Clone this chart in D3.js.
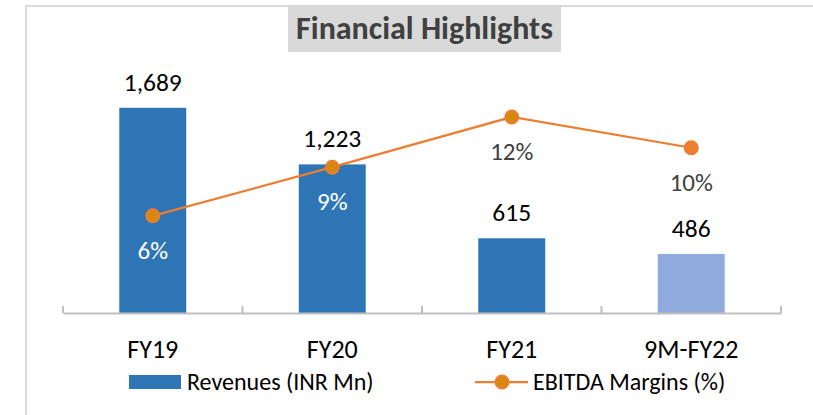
<!DOCTYPE html>
<html>
<head>
<meta charset="utf-8">
<script src="https://cdn.jsdelivr.net/npm/d3@7"></script>
<style>
  body { margin: 0; background: #fff; }
  svg { display: block; }
</style>
</head>
<body>
<script>
// data
const categories = ["FY19", "FY20", "FY21", "9M-FY22"];
const revenues = [1689, 1223, 615, 486];        // INR Mn
const ebitdaMargins = [6.0, 9.0, 12.1, 10.2];    // %
const revenueLabels = ["1,689", "1,223", "615", "486"];
const marginLabels = ["6%", "9%", "12%", "10%"];

const width = 813,
  height = 415,
  fontFamily = "Carlito, Calibri, Lato, sans-serif",
  blue = "#2e75b6",
  lightBlue = "#8faadc",
  orange = "#ed7d31",
  markerFill = "#d6890c";

const svg = d3
  .select("body")
  .append("svg")
  .attr("width", width)
  .attr("height", height)
  .attr("viewBox", [0, 0, width, height])
  .attr("font-family", fontFamily);

// frame (left + top edge of the slide box)
svg
  .append("path")
  .attr("d", `M26,${height}V6H${width}`)
  .attr("fill", "none")
  .attr("stroke", "#d9d9d9")
  .attr("stroke-width", 2);

// title
svg
  .append("rect")
  .attr("x", 288)
  .attr("y", 6)
  .attr("width", 273)
  .attr("height", 46)
  .attr("fill", "#d9d9d9");

svg
  .append("text")
  .attr("x", 424.5)
  .attr("y", 39)
  .attr("text-anchor", "middle")
  .attr("font-size", 32)
  .attr("font-weight", "bold")
  .attr("fill", "#404040")
  .text("Financial Highlights");

// scales
const xScale = d3.scaleBand().domain(categories).range([63, 781]);
const yScale = d3.scaleLinear().domain([0, 2000]).range([313, 70]);
const y2Scale = d3.scaleLinear().domain([0, 15]).range([313, 70]);
const barWidth = xScale.bandwidth() * 0.373;
const cx = (c) => xScale(c) + xScale.bandwidth() / 2;
const isPartial = (c) => c.startsWith("9M");

// bars
svg
  .append("g")
  .selectAll("rect")
  .data(categories)
  .join("rect")
  .attr("x", (c) => cx(c) - barWidth / 2)
  .attr("y", (c, i) => yScale(revenues[i]))
  .attr("width", barWidth)
  .attr("height", (c, i) => yScale(0) - yScale(revenues[i]))
  .attr("fill", (c) => (isPartial(c) ? lightBlue : blue));

// axis: baseline + upward ticks at band edges
const axis = d3.axisBottom(xScale).tickSize(0).tickPadding(27);
svg
  .append("g")
  .attr("transform", `translate(0,${yScale(0)})`)
  .call(axis)
  .call((g) => g.select(".domain").attr("stroke", "#bfbfbf").attr("stroke-width", 2))
  .call((g) =>
    g
      .selectAll(".tick text")
      .attr("font-size", 26)
      .attr("font-family", fontFamily)
      .attr("fill", "#000")
  );

svg
  .append("g")
  .selectAll("line")
  .data(categories.map((c) => xScale(c)).concat([xScale.range()[1]]))
  .join("line")
  .attr("x1", (d) => d)
  .attr("x2", (d) => d)
  .attr("y1", yScale(0) - 7)
  .attr("y2", yScale(0))
  .attr("stroke", "#bfbfbf")
  .attr("stroke-width", 2);

// revenue labels
svg
  .append("g")
  .selectAll("text")
  .data(categories)
  .join("text")
  .attr("x", (c) => cx(c))
  .attr("y", (c, i) => yScale(revenues[i]) - 17)
  .attr("text-anchor", "middle")
  .attr("font-size", 25.5)
  .attr("fill", "#000")
  .text((c, i) => revenueLabels[i]);

// EBITDA line
const line = d3
  .line()
  .x((c) => cx(c))
  .y((c, i) => y2Scale(ebitdaMargins[i]));

svg
  .append("path")
  .datum(categories)
  .attr("d", line)
  .attr("fill", "none")
  .attr("stroke", orange)
  .attr("stroke-width", 2.25);

svg
  .append("g")
  .selectAll("circle")
  .data(categories)
  .join("circle")
  .attr("cx", (c) => cx(c))
  .attr("cy", (c, i) => y2Scale(ebitdaMargins[i]))
  .attr("r", 6.5)
  .attr("fill", (c) => (isPartial(c) ? orange : markerFill))
  .attr("stroke", orange)
  .attr("stroke-width", 2);

// margin labels (white when they sit inside the bar)
svg
  .append("g")
  .selectAll("text")
  .data(categories)
  .join("text")
  .attr("x", (c) => cx(c))
  .attr("y", (c, i) => y2Scale(ebitdaMargins[i]) + 43)
  .attr("text-anchor", "middle")
  .attr("font-size", 25)
  .attr("fill", (c, i) =>
    y2Scale(ebitdaMargins[i]) + 36 > yScale(revenues[i]) ? "#fff" : "#404040"
  )
  .text((c, i) => marginLabels[i]);

// legend
const legend = svg.append("g").attr("font-size", 24).attr("fill", "#000");

legend
  .append("rect")
  .attr("x", 129)
  .attr("y", 375)
  .attr("width", 52)
  .attr("height", 14)
  .attr("fill", blue);

legend
  .append("text")
  .attr("x", 187)
  .attr("y", 389.5)
  .text("Revenues (INR Mn)");

legend
  .append("line")
  .attr("x1", 475)
  .attr("x2", 528)
  .attr("y1", 382)
  .attr("y2", 382)
  .attr("stroke", orange)
  .attr("stroke-width", 2.25);

legend
  .append("circle")
  .attr("cx", 502)
  .attr("cy", 382)
  .attr("r", 6.5)
  .attr("fill", markerFill)
  .attr("stroke", orange)
  .attr("stroke-width", 2);

legend
  .append("text")
  .attr("x", 533)
  .attr("y", 389.5)
  .text("EBITDA Margins (%)");
</script>
</body>
</html>
